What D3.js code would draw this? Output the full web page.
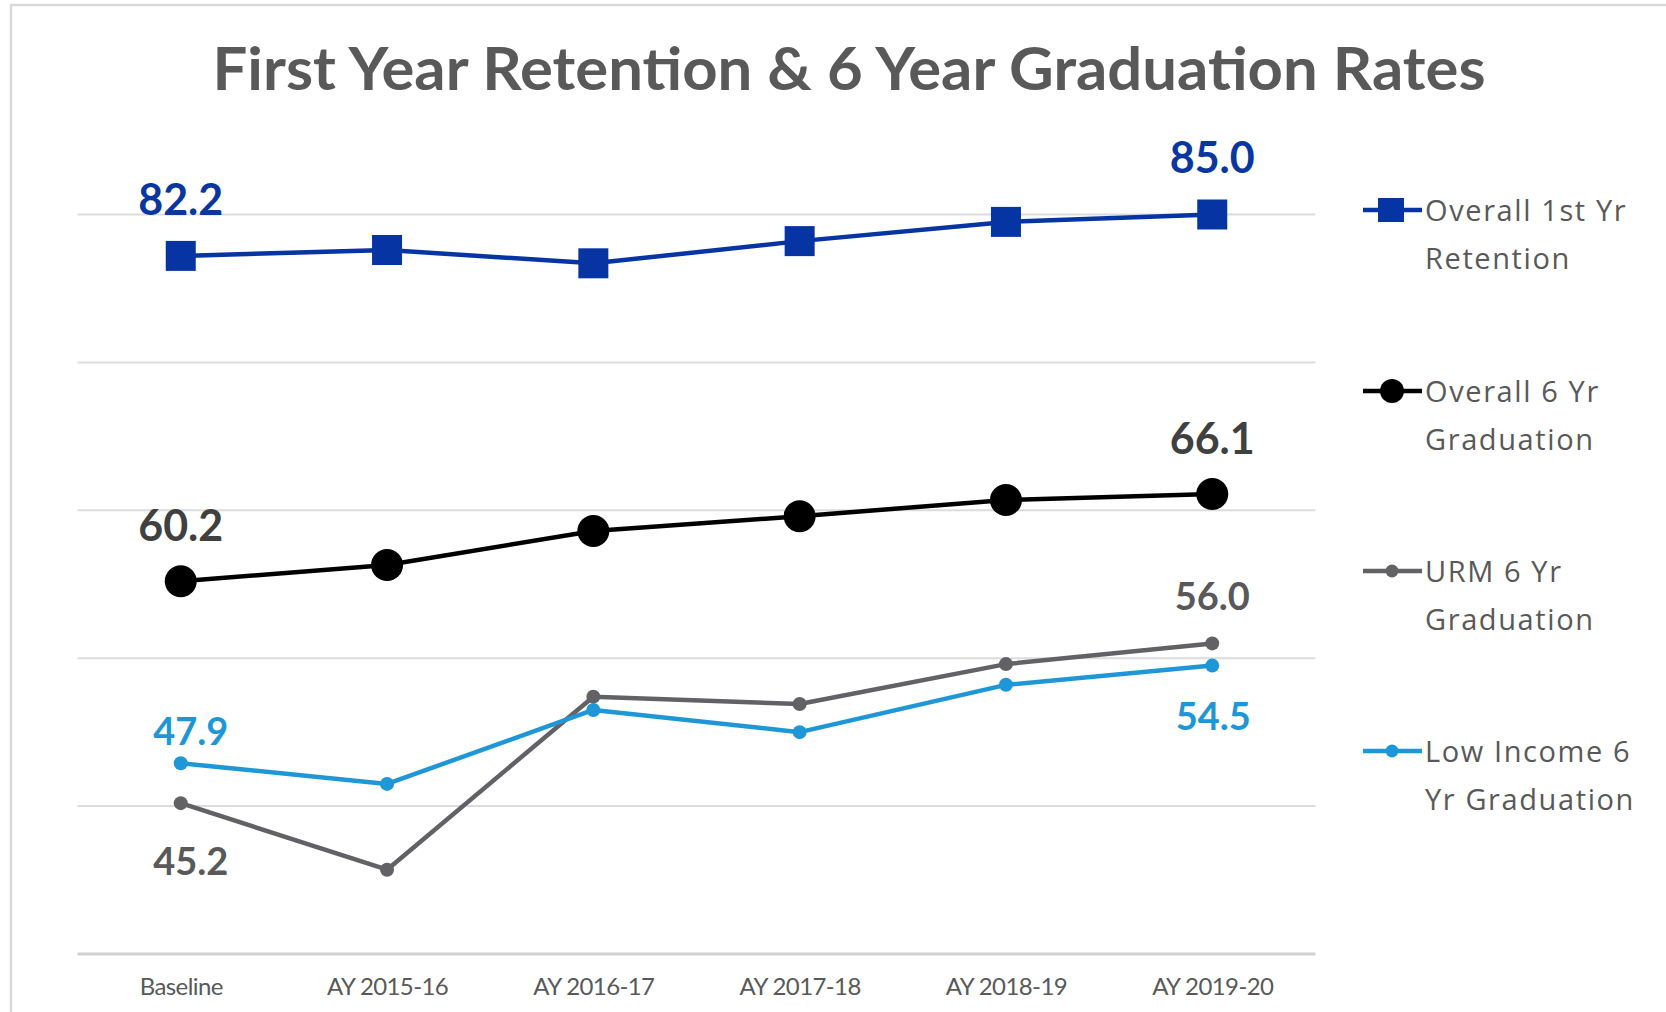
<!DOCTYPE html>
<html>
<head>
<meta charset="utf-8">
<script src="https://cdn.jsdelivr.net/npm/d3@7"></script>
<style>
  html, body { margin: 0; padding: 0; background: #ffffff; }
  svg { display: block; }
</style>
</head>
<body>
<svg id="chart" width="1666" height="1012"></svg>
<script>
// ---- data ----
const categories = ["Baseline", "AY 2015-16", "AY 2016-17", "AY 2017-18", "AY 2018-19", "AY 2019-20"];
const retention1st = [82.2, 82.6, 81.7, 83.2, 84.5, 85.0];
const overallGrad6 = [60.2, 61.3, 63.6, 64.6, 65.7, 66.1];
const urmGrad6 = [45.2, 40.7, 52.4, 51.9, 54.6, 56.0];
const lowIncomeGrad6 = [47.9, 46.5, 51.5, 50.0, 53.2, 54.5];
const seriesNames = [["Overall 1st Yr", "Retention"], ["Overall 6 Yr", "Graduation"], ["URM 6 Yr", "Graduation"], ["Low Income 6", "Yr Graduation"]];
const yTicks = [35, 45, 55, 65, 75, 85];
const titleText = "First Year Retention & 6 Year Graduation Rates";

// ---- layout / styles ----
const svg = d3.select("#chart");
const plot = { left: 77.6, right: 1315.4, top: 214.5, bottom: 954 };

const series = [
  { values: retention1st, color: "#0634a3", labelColor: "#0a36a0", marker: "square", size: 30, width: 4.5, legendSize: 24,
    labels: [{ i: 0, dy: -41, dx: 0, fs: 43 }, { i: 5, dy: -42, dx: 0, fs: 43 }] },
  { values: overallGrad6, color: "#000000", labelColor: "#404040", marker: "circle", size: 16, width: 4.5, legendSize: 12,
    labels: [{ i: 0, dy: -40, dx: 0, fs: 43 }, { i: 5, dy: -40, dx: 0, fs: 43 }] },
  { values: urmGrad6, color: "#626266", labelColor: "#595959", marker: "circle", size: 7, width: 4.5, legendSize: 6.5,
    labels: [{ i: 0, dy: 72, dx: 10, fs: 38 }, { i: 5, dy: -33, dx: 0, fs: 38 }] },
  { values: lowIncomeGrad6, color: "#1f97d6", labelColor: "#1f97d6", marker: "circle", size: 7, width: 4.5, legendSize: 6.5,
    labels: [{ i: 0, dy: -18, dx: 10, fs: 38 }, { i: 5, dy: 64, dx: 1, fs: 38 }] }
];

// border
svg.append("rect").attr("x", 11).attr("y", 5).attr("width", 1700).attr("height", 1100)
  .attr("fill", "#ffffff").attr("stroke", "#d9d9d9").attr("stroke-width", 2.5);

// title
svg.append("text").attr("x", 849).attr("y", 90).attr("text-anchor", "middle")
  .attr("font-family", "Lato, 'Open Sans', sans-serif").attr("font-weight", 700)
  .attr("font-size", 60).attr("fill", "#595959")
  .attr("textLength", 1273).attr("lengthAdjust", "spacingAndGlyphs")
  .text(titleText);

// scales
const x = d3.scalePoint().domain(categories).range([plot.left, plot.right]).padding(0.5);
const y = d3.scaleLinear().domain([35, 85]).range([plot.bottom, plot.top]);

// gridlines
svg.append("g").selectAll("line").data(yTicks).join("line")
  .attr("x1", plot.left).attr("x2", plot.right)
  .attr("y1", d => y(d)).attr("y2", d => y(d))
  .attr("stroke", d => d === 35 ? "#d0d0d0" : "#dcdcdc")
  .attr("stroke-width", d => d === 35 ? 3 : 2);

// x axis labels
const xAxis = d3.axisBottom(x).tickSize(0).tickPadding(0);
const gx = svg.append("g").attr("transform", `translate(0, ${plot.bottom})`).call(xAxis);
gx.select(".domain").remove();
gx.selectAll("text")
  .attr("y", 41).attr("dy", 0)
  .attr("font-family", "Lato, 'Open Sans', sans-serif").attr("font-size", 24)
  .attr("fill", "#595959").attr("letter-spacing", -0.6);

// lines + markers
const line = d3.line().x((d, i) => x(categories[i])).y(d => y(d));
series.forEach(s => {
  const g = svg.append("g");
  g.append("path").datum(s.values).attr("d", line)
    .attr("fill", "none").attr("stroke", s.color).attr("stroke-width", s.width)
    .attr("stroke-linejoin", "round");
  if (s.marker === "square") {
    g.selectAll("rect").data(s.values).join("rect")
      .attr("x", (d, i) => x(categories[i]) - s.size / 2)
      .attr("y", d => y(d) - s.size / 2)
      .attr("width", s.size).attr("height", s.size).attr("fill", s.color);
  } else {
    g.selectAll("circle").data(s.values).join("circle")
      .attr("cx", (d, i) => x(categories[i])).attr("cy", d => y(d))
      .attr("r", s.size).attr("fill", s.color);
  }
  g.selectAll("text.lbl").data(s.labels).join("text").attr("class", "lbl")
    .attr("x", d => x(categories[d.i]) + d.dx)
    .attr("y", d => y(s.values[d.i]) + d.dy)
    .attr("text-anchor", "middle")
    .attr("font-family", "Lato, 'Open Sans', sans-serif").attr("font-weight", 700)
    .attr("font-size", d => d.fs).attr("fill", s.labelColor)
    .text(d => d3.format(".1f")(s.values[d.i]));
});

// legend
const legendY = [210, 391, 571, 751];
series.forEach((s, k) => {
  const g = svg.append("g").attr("transform", `translate(0, ${legendY[k]})`);
  g.append("line").attr("x1", 1363).attr("x2", 1422).attr("y1", 0).attr("y2", 0)
    .attr("stroke", s.color).attr("stroke-width", s.width);
  if (s.marker === "square") {
    g.append("rect").attr("x", 1391 - s.legendSize / 2 - 1).attr("y", -s.legendSize / 2)
      .attr("width", s.legendSize + 2).attr("height", s.legendSize).attr("fill", s.color);
  } else {
    g.append("circle").attr("cx", 1392).attr("cy", 0).attr("r", s.legendSize).attr("fill", s.color);
  }
  seriesNames[k].forEach((t, j) => {
    g.append("text").attr("x", 1425).attr("y", 11 + j * 48)
      .attr("font-family", "'Open Sans', sans-serif").attr("font-size", 29)
      .attr("letter-spacing", 1.6).attr("fill", "#595959")
      .text(t);
  });
});
</script>
</body>
</html>
